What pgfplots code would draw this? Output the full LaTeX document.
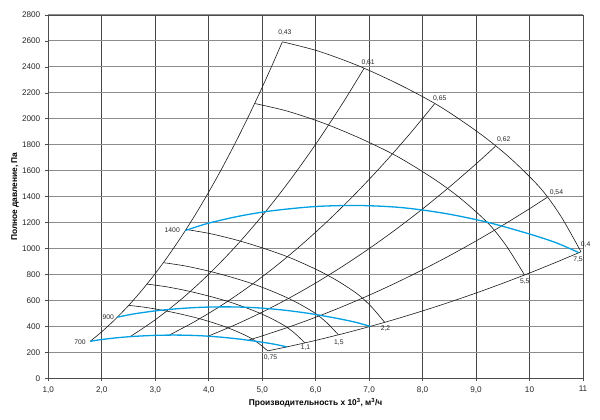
\documentclass[border=0pt]{standalone}
\usepackage{fontspec}
\setmainfont{Liberation Sans}
\usepackage{pgfplots}
\pgfplotsset{compat=1.18}
\definecolor{fanblue}{RGB}{0,160,227}
\definecolor{gridv}{RGB}{70,70,70}
\definecolor{gridh}{RGB}{140,140,140}
\begin{document}
\begin{tikzpicture}
\begin{axis}[
  name=ax, at={(48.3bp,41.7bp)}, anchor=south west,
  scale only axis, width=534.7bp, height=363.3bp,
  xmin=1, xmax=11, ymin=0, ymax=2800,
  clip=false,
  xtick={1,2,3,4,5,6,7,8,9,10,11},
  xticklabels={{1,0},{2,0},{3,0},{4,0},{5,0},{6,0},{7,0},{8,0},{9,0},{10},{11}},
  ytick={0,200,400,600,800,1000,1200,1400,1600,1800,2000,2200,2400,2600,2800},
  yticklabels={0,200,400,600,800,1000,1200,1400,1600,1800,2000,2200,2400,2600,2800},
  grid=major,
  x grid style={gridv, line width=0.75bp},
  y grid style={gridh, line width=1bp},
  axis line style={black!70, line width=0.8bp},
  tick pos=left, tick align=outside, major tick length=3bp,
  tick style={black!70, line width=0.6bp},
  tick label style={font=\fontsize{8.2}{9}\selectfont, text=black!85},
  yticklabel style={xshift=-1.5bp},
  xticklabel style={yshift=-1.5bp},
  xlabel={Производительность x 10\textsuperscript{3}, м\textsuperscript{3}/ч},
  ylabel={Полное давление, Па},
  xlabel style={at={(axis description cs:0.5,-0.068)}, anchor=center, font=\bfseries\fontsize{8.4}{9}\selectfont},
  ylabel style={at={(axis description cs:-0.0623,0.5)}, anchor=center, font=\bfseries\fontsize{8.4}{9}\selectfont},
]
% power curves
\addplot[black!90, line width=0.6bp, smooth] coordinates {(2.504,562.2)(2.816,546.7)(3.168,521.9)(3.52,491.0)(3.872,454.6)(4.224,408.9)(4.488,367.8)(4.752,317.5)(4.928,271.0)(5.104,211.4)};
\addplot[black!90, line width=0.6bp, smooth] coordinates {(2.845,726)(3.2,706)(3.6,674)(4.0,634)(4.4,587)(4.8,528)(5.1,475)(5.4,410)(5.6,350)(5.8,273)};
\addplot[black!90, line width=0.6bp, smooth] coordinates {(3.152,891.3)(3.546,866.8)(3.989,827.5)(4.432,778.4)(4.875,720.7)(5.318,648.2)(5.651,583.2)(5.983,503.4)(6.205,429.7)(6.426,335.2)};
\addplot[black!90, line width=0.6bp, smooth] coordinates {(3.576,1147.1)(4.022,1115.5)(4.525,1064.9)(5.028,1001.7)(5.531,927.5)(6.034,834.2)(6.411,750.5)(6.788,647.8)(7.039,553.0)(7.291,431.3)};
\addplot[black!90, line width=0.6bp, smooth] coordinates {(4.859,2118.0)(5.466,2059.6)(6.149,1966.3)(6.832,1849.6)(7.515,1712.5)(8.198,1540.3)(8.711,1385.7)(9.223,1196.1)(9.565,1021.1)(9.906,796.4)};
\addplot[black!90, line width=0.6bp, smooth] coordinates {(5.377,2593.3)(6.048,2521.9)(6.804,2407.6)(7.56,2264.7)(8.316,2096.8)(9.072,1886.1)(9.639,1696.7)(10.206,1464.6)(10.584,1250.2)(10.962,975.2)};
% efficiency lines
\addplot[black!90, line width=0.6bp, smooth] coordinates {(1.782,284.8)(2.0,358.8)(2.25,454.1)(2.5,560.6)(2.75,678.4)(3.0,807.3)(3.25,947.5)(3.5,1098.8)(3.75,1261.4)(4.0,1435.2)(4.25,1620.2)(4.5,1816.4)(4.75,2023.9)(5.0,2242.5)(5.2,2425.5)(5.377,2593.4)};
\addplot[black!90, line width=0.6bp, smooth] coordinates {(2.53,320.7)(3.0,450.9)(3.5,613.7)(4.0,801.6)(4.5,1014.5)(5.0,1252.5)(5.5,1515.5)(6.0,1803.6)(6.5,2116.7)(6.91,2392)};
\addplot[black!90, line width=0.6bp, smooth] coordinates {(3.26,332.4)(3.75,439.9)(4.25,565.0)(4.75,705.8)(5.25,862.2)(5.75,1034.2)(6.25,1221.9)(6.75,1425.2)(7.25,1644.2)(7.75,1878.8)(8.225,2116.1)};
\addplot[black!90, line width=0.6bp, smooth] coordinates {(3.99,324.8)(4.5,413.1)(5.0,510)(5.5,617.1)(6.0,734.4)(6.5,861.9)(7.0,999.6)(7.5,1147.5)(8.0,1305.6)(8.5,1473.9)(9.0,1652.4)(9.362,1788.0)};
\addplot[black!90, line width=0.6bp, smooth] coordinates {(4.74,293.7)(5.0,326.8)(5.5,395.4)(6.0,470.5)(6.5,552.2)(7.0,640.4)(7.5,735.2)(8.0,836.5)(8.5,944.3)(9.0,1058.7)(9.5,1179.6)(10.0,1307)(10.33,1394.7)};
\addplot[black!90, line width=0.6bp, smooth] coordinates {(5.104,211.4)(5.5,245.5)(6.0,292.1)(6.5,342.9)(7.0,397.6)(7.5,456.5)(8.0,519.4)(8.5,586.3)(9.0,657.3)(9.5,732.4)(10.0,811.5)(10.5,894.7)(10.962,975.2)};
% speed curves (blue)
\addplot[fanblue, line width=1.3bp, smooth] coordinates {(1.782,284.8)(2.0,299)(2.3,313)(2.6,323)(3.0,331)(3.4,333)(3.8,329)(4.2,318)(4.6,301)(5.0,278)(5.25,261)(5.462,242.1)};
\addplot[fanblue, line width=1.3bp, smooth] coordinates {(2.291,470.8)(2.571,494.3)(2.957,517.4)(3.343,533.9)(3.857,547.2)(4.371,550.5)(4.886,543.9)(5.4,525.7)(5.914,497.6)(6.429,459.6)(6.75,431.4)(7.023,400.2)};
\addplot[fanblue, line width=1.3bp, smooth] coordinates {(3.564,1139.2)(4.0,1196)(4.6,1252)(5.2,1292)(6.0,1324)(6.8,1332)(7.6,1316)(8.4,1272)(9.2,1204)(10.0,1112)(10.5,1044)(10.924,968.4)};
% labels
\begin{scope}[every node/.style={font=\fontsize{6.8}{7}\selectfont, text=black!85, inner sep=0pt, anchor=center}]
\node at (axis cs:5.424,2661) {0,43};
\node at (axis cs:6.981,2435) {0,61};
\node at (axis cs:8.322,2153) {0,65};
\node at (axis cs:9.518,1837) {0,62};
\node at (axis cs:10.503,1434) {0,54};
\node at (axis cs:11.05,1027) {0,4};
\node at (axis cs:10.907,912) {7,5};
\node at (axis cs:9.91,745) {5,5};
\node at (axis cs:7.307,385) {2,2};
\node at (axis cs:6.434,277) {1,5};
\node at (axis cs:5.811,236) {1,1};
\node at (axis cs:5.157,162) {0,75};
\node at (axis cs:1.593,282) {700};
\node at (axis cs:2.121,475) {900};
\node at (axis cs:3.318,1143) {1400};
\end{scope}
\end{axis}
\pgfresetboundingbox
\path[use as bounding box] (0bp,0bp) rectangle (600bp,420bp);
\end{tikzpicture}
\end{document}
